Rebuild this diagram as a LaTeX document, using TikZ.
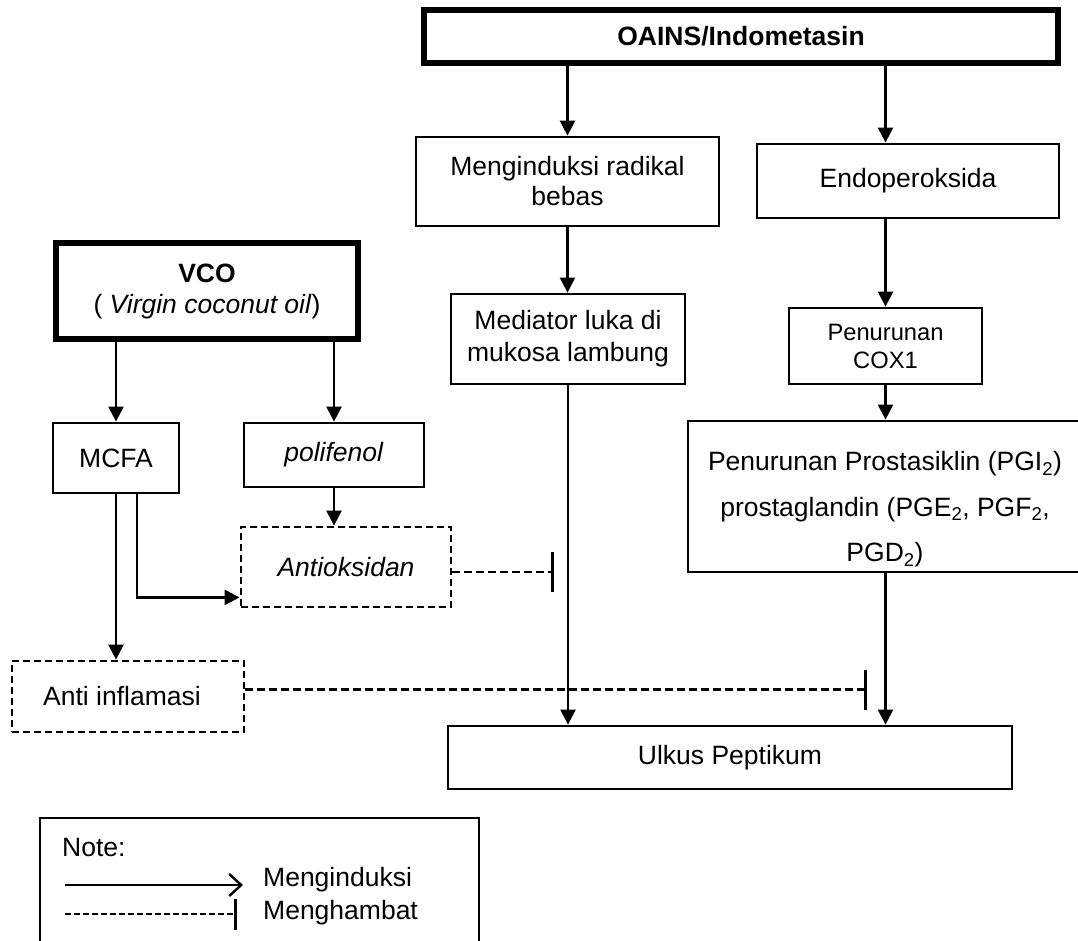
\documentclass[tikz,border=0pt]{standalone}
\usepackage{fontspec}
\setmainfont{Liberation Sans}
\usetikzlibrary{arrows.meta}
\begin{document}
\begin{tikzpicture}[x=1pt, y=-1pt,
  box/.style={draw, rectangle, line width=2.8pt, align=center, inner sep=0pt, font=\fontsize{26.5}{31}\selectfont},
  heavybox/.style={box, line width=5.5pt},
  dashbox/.style={box, dash pattern=on 7pt off 4pt},
  ind/.style={line width=2.4pt, -{Triangle[length=15pt, width=15pt]}},
  inh/.style={line width=2.4pt, dash pattern=on 8pt off 4pt, -{Bar[width=40pt, line width=2.8pt]}},
  txt/.style={anchor=west, inner sep=0pt, font=\fontsize{26.5}{31}\selectfont}]
				\useasboundingbox (0,0) rectangle (1078,940);
				\clip (0,0) rectangle (1078,940);
				\node[heavybox, minimum width=634pt, minimum height=53pt] (OAINS) at (741,36.5) {\textbf{OAINS/Indometasin}};
				\node[box, minimum width=303pt, minimum height=89pt, font=\fontsize{26.5}{30}\selectfont] (Radikal) at (567.5,181.5) {Menginduksi radikal\\bebas};
				\node[box, minimum width=302pt, minimum height=74pt] (Endo) at (908,181) {Endoperoksida};
				\node[box, minimum width=234pt, minimum height=90pt, font=\fontsize{26.5}{32}\selectfont] (Mediator) at (568,339) {Mediator luka di\\mukosa lambung};
				\node[box, minimum width=193pt, minimum height=76pt, font=\fontsize{23.7}{28}\selectfont] (COX) at (885.5,346) {Penurunan\\COX1};
				\node[box, minimum width=394pt, minimum height=151pt, font=\fontsize{26.5}{45.5}\selectfont] (PG) at (885,496.5) {\rule{0pt}{45pt}Penurunan Prostasiklin (PGI\textsubscript{2})\\prostaglandin (PGE\textsubscript{2}, PGF\textsubscript{2},\\PGD\textsubscript{2})};
				\node[box, minimum width=564pt, minimum height=63pt] (Ulkus) at (730,757.5) {Ulkus Peptikum};
				\node[heavybox, minimum width=302pt, minimum height=96pt] (VCO) at (207,291) {\textbf{VCO}\\( \textit{Virgin coconut oil})};
				\node[box, minimum width=126pt, minimum height=70pt] (MCFA) at (116,458) {MCFA};
				\node[box, minimum width=180pt, minimum height=64pt] (Polifenol) at (334,455) {\textit{polifenol}};
				\node[dashbox, minimum width=210pt, minimum height=80pt] (Antioksidan) at (346,567) {\textit{Antioksidan}};
				\node[dashbox, minimum width=232pt, minimum height=71pt] (AntiInf) at (128,696.5) {Anti inflamasi\hspace*{12pt}};
				\node[box, minimum width=439pt, minimum height=150pt] (Note) at (259.5,893) {};
				\node[txt] (NoteTitle) at (62,847) {Note:};
				\node[txt] (KeyInd) at (263,880) {Menginduksi};
				\node[txt] (KeyInh) at (263,913) {Menghambat};
				\coordinate (AOout) at ([yshift=-5pt]Antioksidan.east);
				\coordinate (hitA) at ([xshift=-14pt]Mediator.south |- AOout);
				\coordinate (AIout) at ([yshift=7pt]AntiInf.east);
				\coordinate (hitB) at ([xshift=-19pt]COX.south |- AIout);
				\coordinate (k1a) at (65,885);
				\coordinate (k1b) at (243,885);
				\coordinate (k2a) at (65,914);
				\coordinate (k2b) at (237,914);
				\draw[ind] (OAINS.south -| Radikal.north) -- (Radikal.north);
				\draw[ind] (OAINS.south -| COX.north) -- (Endo.north -| COX.north);
				\draw[ind] (Radikal.south) -- (Radikal.south |- Mediator.north);
				\draw[ind] (Endo.south -| COX.north) -- (COX.north);
				\draw[ind] (COX.south) -- (COX.south |- PG.north);
				\draw[ind] (Mediator.south) -- (Mediator.south |- Ulkus.north);
				\draw[ind] (PG.south -| COX.south) -- (Ulkus.north -| COX.south);
				\draw[ind] (MCFA.north |- VCO.south) -- (MCFA.north);
				\draw[ind] (Polifenol.north |- VCO.south) -- (Polifenol.north);
				\draw[ind] (Polifenol.south) -- (Polifenol.south |- Antioksidan.north);
				\draw[ind] ([xshift=21pt]MCFA.south) |- ([yshift=11pt]Antioksidan.south west);
				\draw[ind] (MCFA.south) -- (MCFA.south |- AntiInf.north);
				\draw[inh] (AOout) -- (hitA);
				\draw[inh] (AIout) -- (hitB);
				\draw[line width=2.4pt, -{Straight Barb[length=12pt, width=22pt]}] (k1a) -- (k1b);
				\draw[inh, dash pattern=on 6pt off 3pt, -{Bar[width=31pt, line width=2.8pt]}] (k2a) -- (k2b);
\end{tikzpicture}
\end{document}
